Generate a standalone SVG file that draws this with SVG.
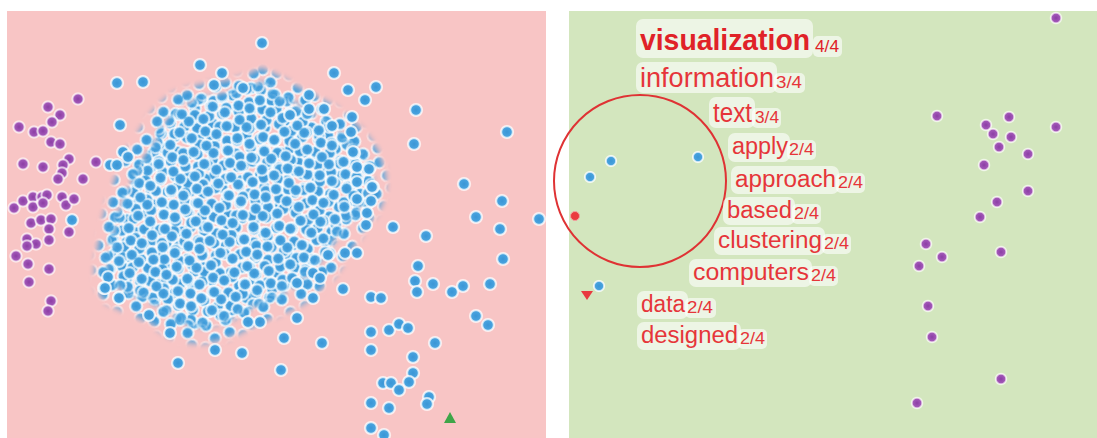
<svg xmlns="http://www.w3.org/2000/svg" xmlns:xlink="http://www.w3.org/1999/xlink" width="1097" height="438" viewBox="0 0 1097 438">
  <style>
    .lbl { font-family: "Liberation Sans", Arial, sans-serif; fill: #e6353a; }
    .big { font-weight: bold; font-size: 29px; fill: #e02228; }
    .mid { font-size: 27px; }
    .sm { font-size: 23px; }
    .sub { font-size: 16px; }
    .box { fill: #ffffff; fill-opacity: 0.6; }
  </style>
  <defs>
    <radialGradient id="gBlue">
      <stop offset="0" stop-color="#3a96d6"/>
      <stop offset="0.56" stop-color="#48a2de"/>
      <stop offset="0.68" stop-color="#bfe0f5"/>
      <stop offset="0.82" stop-color="#ffffff" stop-opacity="0.85"/>
      <stop offset="1" stop-color="#ffffff" stop-opacity="0"/>
    </radialGradient>
    <radialGradient id="gPurple">
      <stop offset="0" stop-color="#8c3ea5"/>
      <stop offset="0.56" stop-color="#a157b7"/>
      <stop offset="0.68" stop-color="#dcb8e0"/>
      <stop offset="0.82" stop-color="#ffffff" stop-opacity="0.7"/>
      <stop offset="1" stop-color="#ffffff" stop-opacity="0"/>
    </radialGradient>
    <circle id="db" r="7.6" fill="url(#gBlue)"/>
    <circle id="dp" r="7.2" fill="url(#gPurple)"/>
    <circle id="dbs" r="6.6" fill="url(#gBlue)"/>
    <circle id="dps" r="6.8" fill="url(#gPurple)"/>

    <!-- jittered tile of dots used to fill the dense cluster -->
    <g id="tileDots">
      <use href="#db" x="7" y="8"/>
      <use href="#db" x="21" y="5"/>
      <use href="#db" x="34" y="12"/>
      <use href="#db" x="13" y="20"/>
      <use href="#db" x="28" y="23"/>
      <use href="#db" x="6" y="32"/>
      <use href="#db" x="20" y="35"/>
      <use href="#db" x="35" y="32"/>
    </g>
    <pattern id="pa" width="42" height="40" patternUnits="userSpaceOnUse" patternTransform="rotate(17) translate(3 5)">
      <use href="#tileDots"/>
    </pattern>
    <pattern id="pb" width="42" height="40" patternUnits="userSpaceOnUse" patternTransform="rotate(-38) translate(11 7)">
      <use href="#tileDots"/>
    </pattern>
    <pattern id="pc" width="42" height="40" patternUnits="userSpaceOnUse" patternTransform="rotate(71) translate(5 19)">
      <use href="#tileDots"/>
    </pattern>

    <filter id="feather" x="-20%" y="-20%" width="140%" height="140%">
      <feGaussianBlur stdDeviation="3"/>
    </filter>
    <mask id="mCore" maskUnits="userSpaceOnUse" x="0" y="0" width="560" height="438">
      <path filter="url(#feather)" fill="#fff" d="M262,82 C272,92 288,100 305,110 C325,120 345,135 360,155 C372,170 376,188 366,202 C352,216 340,232 328,250 C316,268 302,282 284,292 C266,300 250,308 236,316 C220,324 200,330 184,322 C170,314 160,302 140,296 C120,292 108,284 108,266 C110,246 114,222 124,200 C132,182 140,164 152,148 C160,132 168,116 182,106 C200,98 220,96 236,92 C248,90 255,84 262,82 Z"/>
    </mask>
    <mask id="mFringe" maskUnits="userSpaceOnUse" x="0" y="0" width="560" height="438">
      <path filter="url(#feather)" fill="#fff" d="M262,68 C280,78 300,88 322,100 C345,112 365,130 378,152 C388,172 388,198 375,215 C362,232 350,252 338,270 C324,290 305,305 284,312 C262,320 246,330 228,338 C205,346 178,344 160,330 C145,318 125,312 106,302 C94,292 94,272 98,250 C102,226 106,204 114,184 C120,166 128,148 140,132 C150,116 160,100 178,92 C200,84 222,82 240,78 C250,74 256,70 262,68 Z"/>
    </mask>
  </defs>

  <rect width="1097" height="438" fill="#ffffff"/>

  <!-- left panel -->
  <g id="panel-left">
    <rect x="7" y="11" width="539" height="427" fill="#f8c5c5"/>
    <g id="cluster-dense">
      <rect x="7" y="11" width="539" height="427" fill="url(#pc)" mask="url(#mFringe)"/>
      <rect x="7" y="11" width="539" height="427" fill="url(#pa)" mask="url(#mCore)"/>
      <rect x="7" y="11" width="539" height="427" fill="url(#pb)" mask="url(#mCore)"/>
    </g>
    <g id="blue-scatter">
      <use href="#db" x="262" y="43"/><use href="#db" x="200" y="65"/><use href="#db" x="222" y="73"/>
      <use href="#db" x="214" y="85"/><use href="#db" x="243" y="88"/><use href="#db" x="117" y="83"/>
      <use href="#db" x="143" y="82"/><use href="#db" x="334" y="73"/><use href="#db" x="348" y="90"/>
      <use href="#db" x="376" y="87"/><use href="#db" x="365" y="100"/><use href="#db" x="309" y="95"/>
      <use href="#db" x="309" y="109"/><use href="#db" x="324" y="109"/><use href="#db" x="290" y="115"/>
      <use href="#db" x="352" y="117"/><use href="#db" x="332" y="126"/><use href="#db" x="351" y="132"/>
      <use href="#db" x="354" y="153"/><use href="#db" x="416" y="110"/><use href="#db" x="507" y="132"/>
      <use href="#db" x="414" y="144"/><use href="#db" x="464" y="184"/><use href="#db" x="502" y="201"/>
      <use href="#db" x="476" y="217"/><use href="#db" x="500" y="229"/><use href="#db" x="539" y="219"/>
      <use href="#db" x="503" y="259"/><use href="#db" x="373" y="187"/><use href="#db" x="357" y="167"/>
      <use href="#db" x="369" y="169"/><use href="#db" x="357" y="182"/><use href="#db" x="357" y="199"/>
      <use href="#db" x="371" y="201"/><use href="#db" x="393" y="227"/><use href="#db" x="366" y="225"/>
      <use href="#db" x="426" y="236"/><use href="#db" x="418" y="266"/><use href="#db" x="415" y="281"/>
      <use href="#db" x="417" y="292"/><use href="#db" x="433" y="284"/><use href="#db" x="452" y="292"/>
      <use href="#db" x="463" y="286"/><use href="#db" x="490" y="284"/><use href="#db" x="476" y="316"/>
      <use href="#db" x="488" y="325"/><use href="#db" x="371" y="297"/><use href="#db" x="381" y="298"/>
      <use href="#db" x="343" y="289"/><use href="#db" x="371" y="332"/><use href="#db" x="389" y="330"/>
      <use href="#db" x="399" y="324"/><use href="#db" x="408" y="328"/><use href="#db" x="435" y="343"/>
      <use href="#db" x="371" y="350"/><use href="#db" x="413" y="357"/><use href="#db" x="413" y="373"/>
      <use href="#db" x="409" y="382"/><use href="#db" x="383" y="383"/><use href="#db" x="391" y="383"/>
      <use href="#db" x="399" y="390"/><use href="#db" x="429" y="397"/><use href="#db" x="427" y="404"/>
      <use href="#db" x="371" y="403"/><use href="#db" x="389" y="408"/><use href="#db" x="371" y="428"/>
      <use href="#db" x="384" y="435"/><use href="#db" x="120" y="125"/><use href="#db" x="110" y="165"/>
      <use href="#db" x="123" y="152"/><use href="#db" x="128" y="157"/><use href="#db" x="117" y="165"/>
      <use href="#db" x="72" y="220"/><use href="#db" x="104" y="288"/><use href="#db" x="108" y="277"/>
      <use href="#db" x="119" y="298"/><use href="#db" x="149" y="315"/><use href="#db" x="178" y="363"/>
      <use href="#db" x="215" y="350"/><use href="#db" x="242" y="353"/><use href="#db" x="281" y="370"/>
      <use href="#db" x="284" y="338"/><use href="#db" x="322" y="343"/><use href="#db" x="313" y="298"/>
      <use href="#db" x="170" y="333"/><use href="#db" x="328" y="255"/><use href="#db" x="345" y="253"/>
      <use href="#db" x="357" y="253"/><use href="#db" x="297" y="318"/><use href="#db" x="260" y="322"/>
      <use href="#db" x="248" y="322"/><use href="#db" x="297" y="283"/><use href="#db" x="313" y="273"/>
      <use href="#db" x="320" y="278"/><use href="#db" x="367" y="213"/><use href="#db" x="372" y="187"/>
      <use href="#db" x="353" y="152"/><use href="#db" x="105" y="288"/>
    </g>
    <g id="purple-scatter">
      <use href="#dp" x="78" y="99"/><use href="#dp" x="48" y="107"/><use href="#dp" x="60" y="115"/>
      <use href="#dp" x="52" y="122"/><use href="#dp" x="19" y="127"/><use href="#dp" x="34" y="132"/>
      <use href="#dp" x="43" y="131"/><use href="#dp" x="51" y="142"/><use href="#dp" x="60" y="144"/>
      <use href="#dp" x="69" y="159"/><use href="#dp" x="23" y="164"/><use href="#dp" x="43" y="167"/>
      <use href="#dp" x="63" y="165"/><use href="#dp" x="62" y="173"/><use href="#dp" x="58" y="179"/>
      <use href="#dp" x="83" y="179"/><use href="#dp" x="96" y="162"/><use href="#dp" x="14" y="208"/>
      <use href="#dp" x="23" y="201"/><use href="#dp" x="33" y="197"/><use href="#dp" x="33" y="207"/>
      <use href="#dp" x="42" y="197"/><use href="#dp" x="47" y="195"/><use href="#dp" x="43" y="203"/>
      <use href="#dp" x="62" y="197"/><use href="#dp" x="66" y="205"/><use href="#dp" x="74" y="199"/>
      <use href="#dp" x="31" y="223"/><use href="#dp" x="41" y="220"/><use href="#dp" x="51" y="219"/>
      <use href="#dp" x="49" y="229"/><use href="#dp" x="69" y="232"/><use href="#dp" x="27" y="239"/>
      <use href="#dp" x="36" y="244"/><use href="#dp" x="49" y="240"/><use href="#dp" x="27" y="246"/>
      <use href="#dp" x="16" y="256"/><use href="#dp" x="28" y="264"/><use href="#dp" x="49" y="269"/>
      <use href="#dp" x="29" y="282"/><use href="#dp" x="51" y="301"/><use href="#dp" x="48" y="311"/>
    </g>
    <polygon id="marker-green" points="444,423 456,423 450,412" fill="#3ea548"/>
  </g>

  <!-- right panel -->
  <g id="panel-right">
    <rect x="569" y="11" width="528" height="427" fill="#d3e6be"/>
    <g id="purple-right">
      <use href="#dps" x="1056" y="18"/><use href="#dps" x="937" y="116"/><use href="#dps" x="1009" y="117"/>
      <use href="#dps" x="986" y="125"/><use href="#dps" x="1056" y="127"/><use href="#dps" x="993" y="134"/>
      <use href="#dps" x="1011" y="137"/><use href="#dps" x="999" y="147"/><use href="#dps" x="1028" y="154"/>
      <use href="#dps" x="984" y="165"/><use href="#dps" x="1028" y="191"/><use href="#dps" x="997" y="202"/>
      <use href="#dps" x="980" y="217"/><use href="#dps" x="926" y="244"/><use href="#dps" x="942" y="257"/>
      <use href="#dps" x="919" y="266"/><use href="#dps" x="1001" y="252"/><use href="#dps" x="928" y="306"/>
      <use href="#dps" x="932" y="337"/><use href="#dps" x="1001" y="379"/><use href="#dps" x="917" y="403"/>
    </g>
    <g id="blue-right">
      <use href="#dbs" x="611" y="161"/><use href="#dbs" x="698" y="157"/><use href="#dbs" x="590" y="177"/>
      <use href="#dbs" x="599" y="286"/>
    </g>
    <circle id="dot-red" cx="575" cy="216" r="4.5" fill="#ea3a3f" stroke="#f3a0a0" stroke-width="1"/>
    <polygon id="marker-red" points="581,291 593,291 587,300" fill="#e83a40"/>
    <circle id="selection" cx="640" cy="181" r="86" fill="none" stroke="#df3234" stroke-width="2"/>

    <g id="labels">
      <g id="lbl-visualization">
        <rect class="box" x="636" y="19" width="177" height="39" rx="7"/>
        <rect class="box" x="813" y="36" width="29" height="21" rx="5"/>
        <text class="lbl big" x="640" y="50" textLength="170" lengthAdjust="spacingAndGlyphs">visualization</text>
        <text class="lbl sub" x="815" y="52" textLength="24" lengthAdjust="spacingAndGlyphs" style="fill:#e02228">4/4</text>
      </g>
      <g id="lbl-information">
        <rect class="box" x="636" y="62" width="141" height="31" rx="7"/>
        <rect class="box" x="774" y="73" width="31" height="20" rx="5"/>
        <text class="lbl mid" x="640" y="87" textLength="134" lengthAdjust="spacingAndGlyphs">information</text>
        <text class="lbl sub" x="776" y="88" textLength="26" lengthAdjust="spacingAndGlyphs">3/4</text>
      </g>
      <g id="lbl-text">
        <rect class="box" x="709" y="97" width="46" height="31" rx="7"/>
        <rect class="box" x="752" y="108" width="29" height="20" rx="5"/>
        <text class="lbl mid" x="713" y="122" textLength="39" lengthAdjust="spacingAndGlyphs">text</text>
        <text class="lbl sub" x="755" y="123" textLength="24" lengthAdjust="spacingAndGlyphs">3/4</text>
      </g>
      <g id="lbl-apply">
        <rect class="box" x="728" y="133" width="62" height="29" rx="7"/>
        <rect class="box" x="787" y="140" width="29" height="20" rx="5"/>
        <text class="lbl sm" x="732" y="154" textLength="56" lengthAdjust="spacingAndGlyphs">apply</text>
        <text class="lbl sub" x="789" y="155" textLength="25" lengthAdjust="spacingAndGlyphs">2/4</text>
      </g>
      <g id="lbl-approach">
        <rect class="box" x="731" y="166" width="108" height="28" rx="7"/>
        <rect class="box" x="836" y="173" width="29" height="20" rx="5"/>
        <text class="lbl sm" x="735" y="187" textLength="101" lengthAdjust="spacingAndGlyphs">approach</text>
        <text class="lbl sub" x="838" y="188" textLength="25" lengthAdjust="spacingAndGlyphs">2/4</text>
      </g>
      <g id="lbl-based">
        <rect class="box" x="723" y="197" width="72" height="28" rx="7"/>
        <rect class="box" x="792" y="204" width="29" height="20" rx="5"/>
        <text class="lbl sm" x="727" y="218" textLength="65" lengthAdjust="spacingAndGlyphs">based</text>
        <text class="lbl sub" x="794" y="219" textLength="25" lengthAdjust="spacingAndGlyphs">2/4</text>
      </g>
      <g id="lbl-clustering">
        <rect class="box" x="714" y="227" width="111" height="28" rx="7"/>
        <rect class="box" x="822" y="234" width="29" height="20" rx="5"/>
        <text class="lbl sm" x="718" y="248" textLength="104" lengthAdjust="spacingAndGlyphs">clustering</text>
        <text class="lbl sub" x="824" y="249" textLength="25" lengthAdjust="spacingAndGlyphs">2/4</text>
      </g>
      <g id="lbl-computers">
        <rect class="box" x="689" y="259" width="123" height="28" rx="7"/>
        <rect class="box" x="809" y="266" width="29" height="20" rx="5"/>
        <text class="lbl sm" x="693" y="280" textLength="116" lengthAdjust="spacingAndGlyphs">computers</text>
        <text class="lbl sub" x="811" y="281" textLength="25" lengthAdjust="spacingAndGlyphs">2/4</text>
      </g>
      <g id="lbl-data">
        <rect class="box" x="637" y="291" width="51" height="28" rx="7"/>
        <rect class="box" x="685" y="298" width="31" height="20" rx="5"/>
        <text class="lbl sm" x="641" y="312" textLength="44" lengthAdjust="spacingAndGlyphs">data</text>
        <text class="lbl sub" x="687" y="313" textLength="26" lengthAdjust="spacingAndGlyphs">2/4</text>
      </g>
      <g id="lbl-designed">
        <rect class="box" x="637" y="322" width="104" height="28" rx="7"/>
        <rect class="box" x="738" y="329" width="29" height="20" rx="5"/>
        <text class="lbl sm" x="641" y="343" textLength="97" lengthAdjust="spacingAndGlyphs">designed</text>
        <text class="lbl sub" x="740" y="344" textLength="25" lengthAdjust="spacingAndGlyphs">2/4</text>
      </g>
    </g>
  </g>
</svg>
